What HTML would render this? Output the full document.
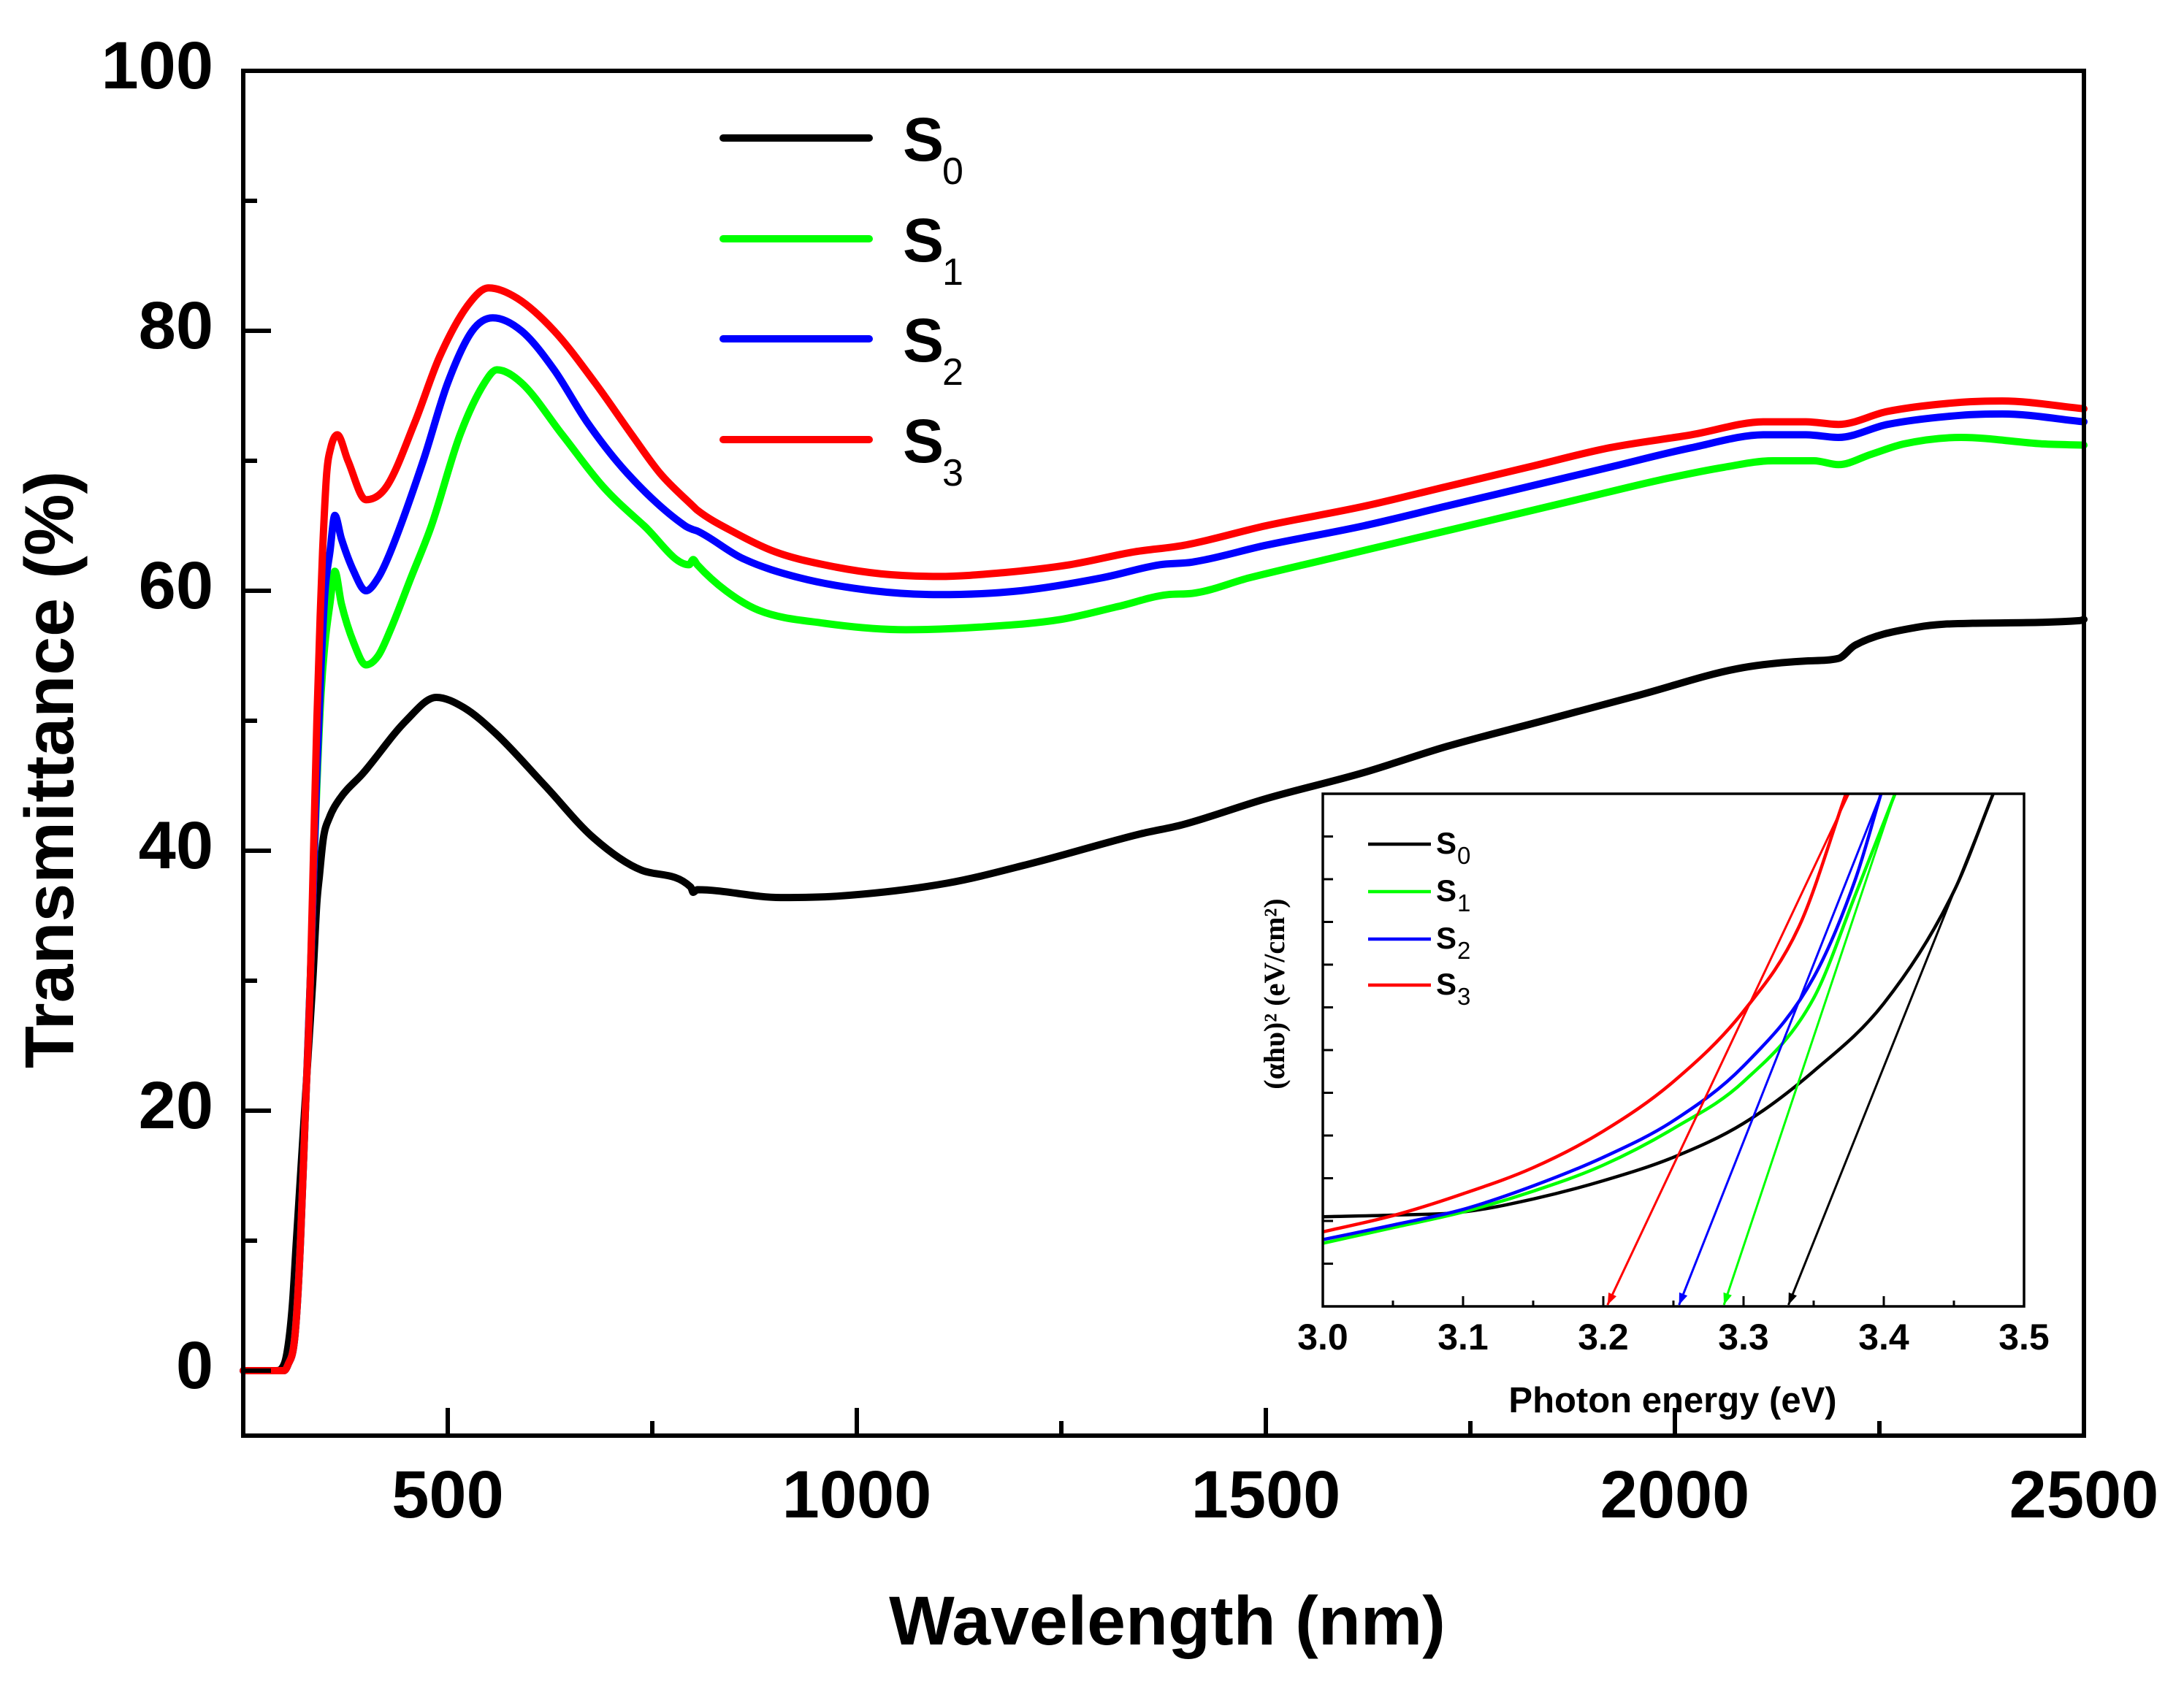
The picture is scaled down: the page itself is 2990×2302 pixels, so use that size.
<!DOCTYPE html>
<html><head><meta charset="utf-8"><style>
html,body{margin:0;padding:0;background:#fff}
svg{display:block}
text{font-family:"Liberation Sans",Arial,sans-serif;font-weight:bold;fill:#000}
</style></head><body>
<svg id="chart" width="2990" height="2302" viewBox="0 0 2990 2302" xmlns="http://www.w3.org/2000/svg">
<g id="main"></g>
<g id="inset"></g>
</svg>
<script>
// ---------- main chart data ----------
const seriesNames = ["S0","S1","S2","S3"];
const seriesColors = ["#000000","#00ff00","#0000ff","#ff0000"];
const s0Wl = [250,290,300,305,310,315,320,325,330,335,340,343,348,355,368,397,449,486,520,559,619,678,737,797,800,805,907,975,1110,1212,1347,1398,1500,1619,1720,1839,1958,2076,2161,2200,2220,2297,2364,2495,2500];
const s0T  = [0,0,0.5,2,5,10,15,20,25,30,36,38,41,42.5,44,46,50,51.8,51,49,45,41,38.5,37.2,36.8,37,36.4,36.5,37.5,39,41.3,42,44,46,48,50,52,54,54.6,54.8,55.8,57.2,57.5,57.7,57.8];
const s1Wl = [250,300,305,312,316,320,326,332,336,340,345,350,356,362,370,385,400,415,430,455,480,515,545,560,590,640,690,740,795,800,805,840,880,960,1060,1150,1250,1320,1380,1410,1480,1580,1680,1780,1880,1980,2060,2120,2170,2200,2240,2280,2350,2450,2500];
const s1T  = [0,0,0.5,2,5,10,20,30,38,45,52,56,59,61.5,59,56,54.3,55,57,61,65,72,76,77,76,72,68,65,62,62.4,62,60,58.5,57.5,57,57.2,57.8,58.8,59.7,59.8,61,62.5,64,65.5,67,68.5,69.5,70,70,69.7,70.5,71.3,71.8,71.3,71.2];
const s2Wl = [250,300,305,312,316,320,326,332,336,340,345,350,356,362,370,385,400,415,430,470,500,530,555,590,630,670,720,790,800,805,860,930,1020,1100,1200,1300,1370,1410,1500,1620,1720,1820,1920,2020,2110,2160,2200,2260,2350,2400,2500];
const s2T  = [0,0,0.5,2,5,10,20,30,38,46,54,60,63,65.8,64,61.5,60,61,63,70,76,80,81,80,77,73,69,65,64.7,64.6,62.5,61,60,59.7,60,61,62,62.2,63.5,65,66.5,68,69.5,71,72,72,71.8,72.8,73.5,73.6,73];
const s3Wl = [250,300,305,312,316,320,326,332,336,340,344,347,352,357,365,378,400,425,460,490,525,550,585,630,680,725,760,800,805,850,900,960,1030,1100,1180,1260,1340,1400,1500,1620,1720,1820,1920,2020,2110,2160,2200,2260,2350,2400,2500];
const s3T  = [0,0,0.5,2,5,10,20,30,40,50,58,63,69,71,72,70,67,68,73,78,82,83.3,82.5,80,76,72,69,66.5,66.2,64.5,63,62,61.3,61.1,61.4,62,63,63.5,65,66.5,68,69.5,71,72,73,73,72.8,73.8,74.5,74.6,74];
const xTicks = [500,1000,1500,2000,2500];
const xTickLabels = ["500","1000","1500","2000","2500"];
const yTicks = [0,20,40,60,80,100];
const yTickLabels = ["0","20","40","60","80","100"];

// ---------- inset data ----------
const insetE0 = [3.0,3.05,3.1,3.15,3.2,3.25,3.3,3.35,3.4,3.45,3.478];
const insetS0 = [849,846,840,815,780,735,670,570,440,225,38];
const insetE1 = [3.0,3.05,3.1,3.15,3.2,3.25,3.3,3.35,3.38,3.408];
const insetS1 = [900,870,840,800,750,680,590,430,230,38];
const insetE2 = [3.0,3.05,3.1,3.15,3.2,3.25,3.3,3.35,3.38,3.398];
const insetS2 = [893,865,835,790,735,665,560,390,200,38];
const insetE3 = [3.0,3.05,3.1,3.15,3.2,3.25,3.3,3.34,3.373];
const insetS3 = [878,847,805,755,685,590,455,290,38];
const tangentTopE = [3.478,3.408,3.398,3.375];
const tangentBotE = [3.332,3.286,3.254,3.203];
const insetXTicks = [3.0,3.1,3.2,3.3,3.4,3.5];
const insetXLabels = ["3.0","3.1","3.2","3.3","3.4","3.5"];

const NS="http://www.w3.org/2000/svg";
function mk(tag,parent,attrs){const e=document.createElementNS(NS,tag);for(const k in attrs)e.setAttribute(k,attrs[k]);parent.appendChild(e);return e;}

// monotone cubic path through pixel points (x increasing)
function smoothPath(px,py){
  const n=px.length;
  if(n<3){return px.map((x,i)=>(i?'L':'M')+x.toFixed(1)+','+py[i].toFixed(1)).join('');}
  const d=[],m=new Array(n);
  for(let i=0;i<n-1;i++){const dx=px[i+1]-px[i];d.push(dx===0?0:(py[i+1]-py[i])/dx);}
  m[0]=d[0];m[n-1]=d[n-2];
  for(let i=1;i<n-1;i++){m[i]=(d[i-1]*d[i]<=0)?0:(d[i-1]+d[i])/2;}
  for(let i=0;i<n-1;i++){
    if(d[i]===0){m[i]=0;m[i+1]=0;continue;}
    const a=m[i]/d[i],b=m[i+1]/d[i],s=a*a+b*b;
    if(s>9){const t=3/Math.sqrt(s);m[i]=t*a*d[i];m[i+1]=t*b*d[i];}
  }
  let p='M'+px[0].toFixed(1)+','+py[0].toFixed(1);
  for(let i=0;i<n-1;i++){
    const h=(px[i+1]-px[i])/3;
    p+='C'+(px[i]+h).toFixed(1)+','+(py[i]+m[i]*h).toFixed(1)+' '+(px[i+1]-h).toFixed(1)+','+(py[i+1]-m[i+1]*h).toFixed(1)+' '+px[i+1].toFixed(1)+','+py[i+1].toFixed(1);
  }
  return p;
}

// main axes
const L=333,R=2853,T=97,B=1966;
const XMIN=250,XMAX=2500,YMIN=-5,YMAX=100;
const xs=v=>L+(v-XMIN)/(XMAX-XMIN)*(R-L);
const ys=v=>B-(v-YMIN)/(YMAX-YMIN)*(B-T);
const main=document.getElementById('main');

const allWl=[s0Wl,s1Wl,s2Wl,s3Wl], allT=[s0T,s1T,s2T,s3T];
for(let s=0;s<4;s++){
  const d=smoothPath(allWl[s].map(xs),allT[s].map(ys));
  const p=mk('path',main,{d:d,fill:'none',stroke:seriesColors[s],'stroke-width':10,'stroke-linejoin':'round','stroke-linecap':'round'});
  
  
}
const fr=mk('rect',main,{x:L,y:T,width:R-L,height:B-T,fill:'none',stroke:'#000','stroke-width':6});


for(let v=0;v<=100;v+=10){
  const major=v%20===0;
  const t=mk('line',main,{x1:L,x2:L+(major?38:19),y1:ys(v),y2:ys(v),stroke:'#000','stroke-width':6});
  
  
}
yTicks.forEach((v,i)=>{
  const t=mk('text',main,{x:292,y:ys(v)+24,'text-anchor':'end','font-size':92});
  t.textContent=yTickLabels[i];
  
  
});
for(let v=500;v<=2500;v+=250){
  const major=v%500===0;
  const t=mk('line',main,{x1:xs(v),x2:xs(v),y1:B,y2:B-(major?38:20),stroke:'#000','stroke-width':6});
  
  
}
xTicks.forEach((v,i)=>{
  const t=mk('text',main,{x:xs(v),y:2078,'text-anchor':'middle','font-size':92});
  t.textContent=xTickLabels[i];
  
  
});
const xt=mk('text',main,{x:1598,y:2252,'text-anchor':'middle','font-size':95});
xt.textContent='Wavelength (nm)';


const yt=mk('text',main,{x:0,y:0,'text-anchor':'middle','font-size':95,transform:'translate(100,1054) rotate(-90)'});
yt.textContent='Transmittance (%)';


const legY=[189,327,464,602];
for(let s=0;s<4;s++){
  const g=mk('g',main,{});
  
  
  mk('line',g,{x1:990,x2:1190,y1:legY[s],y2:legY[s],stroke:seriesColors[s],'stroke-width':10,'stroke-linecap':'round'});
  const tx=mk('text',g,{x:1236,y:legY[s]+31,'font-size':84});
  tx.textContent='S';
  const sb=mk('tspan',tx,{x:1290,y:legY[s]+63,'font-size':52,'font-weight':'normal'});
  sb.textContent=String(s);
}

// ---------- inset ----------
const iL=1811,iR=2771,iT=1087,iB=1789;
const ix=e=>iL+(e-3.0)/0.5*(iR-iL);
const iy=z=>iB-(1021-z)/(1021-38)*(iB-iT);
const inset=document.getElementById('inset');
mk('rect',inset,{x:iL,y:iT,width:iR-iL,height:iB-iT,fill:'#fff',stroke:'none'});
const iE=[insetE0,insetE1,insetE2,insetE3], iS=[insetS0,insetS1,insetS2,insetS3];
for(let s=0;s<4;s++){
  const d=smoothPath(iE[s].map(ix),iS[s].map(iy));
  const p=mk('path',inset,{d:d,fill:'none',stroke:seriesColors[s],'stroke-width':4.5,'stroke-linejoin':'round'});
  
  
}
for(let s=0;s<4;s++){
  const x1=ix(tangentTopE[s]),y1=iT,x2=ix(tangentBotE[s]),y2=iB-2;
  const ln=mk('line',inset,{x1:x1,y1:y1,x2:x2,y2:y2,stroke:seriesColors[s],'stroke-width':3});
  
  
  const ang=Math.atan2(y2-y1,x2-x1), h=16, w=6;
  const bx=x2-h*Math.cos(ang), by=y2-h*Math.sin(ang);
  const pts=[x2+','+y2,(bx+w*Math.sin(ang))+','+(by-w*Math.cos(ang)),(bx-w*Math.sin(ang))+','+(by+w*Math.cos(ang))].join(' ');
  const ah=mk('polygon',inset,{points:pts,fill:seriesColors[s]});
  
  
}
const ifr=mk('rect',inset,{x:iL,y:iT,width:iR-iL,height:iB-iT,fill:'none',stroke:'#000','stroke-width':3.5});


for(let k=1;k<12;k++){
  const yy=iB-k*(iB-iT)/12;
  const t=mk('line',inset,{x1:iL,x2:iL+14,y1:yy,y2:yy,stroke:'#000','stroke-width':3});
  
  
}
for(let e=3.05;e<3.5;e+=0.05){
  const major=Math.abs(Math.round(e*10)-e*10)<0.01;
  const t=mk('line',inset,{x1:ix(e),x2:ix(e),y1:iB,y2:iB-(major?14:8),stroke:'#000','stroke-width':3});
  
  
}
insetXTicks.forEach((v,i)=>{
  const t=mk('text',inset,{x:ix(v),y:1848,'text-anchor':'middle','font-size':50});
  t.textContent=insetXLabels[i];
  
  
});
const ixt=mk('text',inset,{x:2290,y:1934,'text-anchor':'middle','font-size':49});
ixt.textContent='Photon energy (eV)';


const iyt=mk('text',inset,{x:0,y:0,'text-anchor':'middle','font-size':40,'font-weight':'normal',transform:'translate(1758,1361) rotate(-90)',style:'font-family:"Liberation Serif",serif'});
iyt.textContent='(αhυ)² (eV/cm²)';


const ilegY=[1156,1221,1286,1349];
for(let s=0;s<4;s++){
  const g=mk('g',inset,{});
  
  
  mk('line',g,{x1:1873,x2:1959,y1:ilegY[s],y2:ilegY[s],stroke:seriesColors[s],'stroke-width':4.5});
  const tx=mk('text',g,{x:1966,y:ilegY[s]+13,'font-size':42});
  tx.textContent='S';
  const sb=mk('tspan',tx,{x:1995,y:ilegY[s]+27,'font-size':33,'font-weight':'normal'});
  sb.textContent=String(s);
}
</script>
</body></html>
